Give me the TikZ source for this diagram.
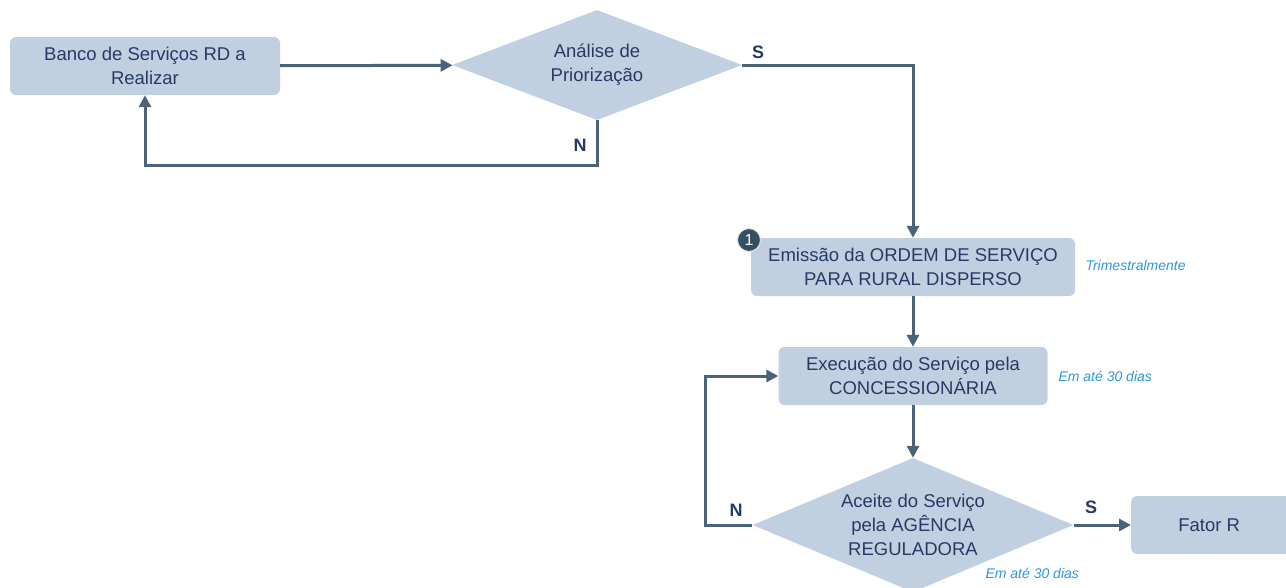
\documentclass[tikz,border=0pt]{standalone}
\usepackage{fontspec}
\setmainfont{Liberation Sans}
\usetikzlibrary{shapes.geometric,arrows.meta}
\definecolor{cbox}{RGB}{193, 208, 224}
\definecolor{ctext}{RGB}{38, 58, 102}
\definecolor{cline}{RGB}{74, 99, 120}
\definecolor{cnote}{RGB}{45, 150, 220}
\definecolor{cbadge}{RGB}{52, 78, 98}

\begin{document}
\begin{tikzpicture}[x=1pt,y=-1pt,
    procbox/.style={draw=none,fill=cbox,rounded corners=6pt,minimum height=58pt,align=center,text=ctext,font=\fontsize{18.5}{24}\selectfont,inner sep=0pt},
    decision/.style={diamond,draw=none,fill=cbox,align=center,text=ctext,font=\fontsize{18.5}{24}\selectfont,inner sep=0pt},
    flow/.style={draw=cline,line width=3pt,-{Triangle[length=12pt,width=12pt]}},
    answer/.style={text=ctext,font=\fontsize{18}{20}\selectfont\bfseries},
    note/.style={text=cnote,font=\fontsize{14}{16}\selectfont\itshape,anchor=west}]

\useasboundingbox (0,0) rectangle (1286,587);

\node[procbox,minimum width=270pt] (banco) at (145,66) {Banco de Serviços RD a\\Realizar};
\node[decision,aspect=2.64,minimum width=290pt,minimum height=110pt] (analise) at (597,65) {Análise de\\Priorização};
\node[procbox,minimum width=324pt] (emissao) at (913,267) {Emissão da ORDEM DE SERVIÇO\\PARA RURAL DISPERSO};
\node[procbox,minimum width=269pt] (execucao) at (913,376) {Execução do Serviço pela\\CONCESSIONÁRIA};
\node[decision,aspect=2.4,minimum width=321pt,minimum height=134pt] (aceite) at (913,525) {Aceite do Serviço\\pela AGÊNCIA\\REGULADORA};
\node[procbox,minimum width=160pt,anchor=west] (fator) at (1131,525) {\hspace*{-4pt}Fator R};

% badge
\node[circle,fill=cbadge,draw=cbox!60,line width=1pt,minimum size=23pt,inner sep=0pt,text=white,font=\fontsize{16}{16}\selectfont] (badge) at (749,240) {1};

% notes
\node[note] (n1) at (1082,265) {Trimestralmente};
\node[note] (n2) at (1055,376) {Em até 30 dias};
\node[note] (n3) at (982,573) {Em até 30 dias};

% connectors
\draw[flow] (banco) -- (analise);
\draw[flow] (analise.south) -- ++(0,45) -| (banco.south);
\draw[flow] (analise.east) -| (emissao.north);
\draw[flow] (emissao) -- (execucao);
\draw[flow] (execucao) -- (aceite);
\draw[flow] (aceite.west) -- ++(-47,0) |- (execucao.west);
\draw[flow] (aceite.east) -- (fator.west);

% answers
\node[answer] (s1) at (758,52) {S};
\node[answer] (n1a) at (580,145) {N};
\node[answer] (n2a) at (736,510) {N};
\node[answer] (s2) at (1091,507) {S};

\end{tikzpicture}
\end{document}
